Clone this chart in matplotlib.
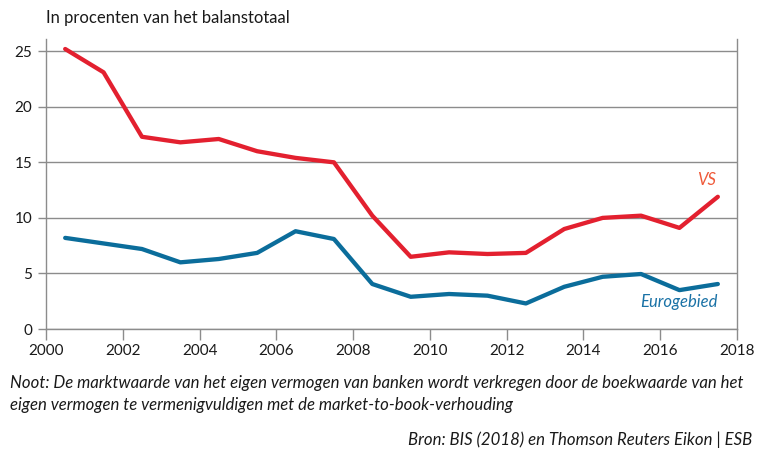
import matplotlib
matplotlib.use("Agg")
import matplotlib.pyplot as plt

# data
years = [2000.5, 2001.5, 2002.5, 2003.5, 2004.5, 2005.5, 2006.5, 2007.5, 2008.5,
         2009.5, 2010.5, 2011.5, 2012.5, 2013.5, 2014.5, 2015.5, 2016.5, 2017.5]
vs = [25.2, 23.1, 17.3, 16.8, 17.1, 16.0, 15.4, 15.0, 10.2,
      6.5, 6.9, 6.75, 6.85, 9.0, 10.0, 10.2, 9.1, 11.9]
eurogebied = [8.2, 7.7, 7.2, 6.0, 6.3, 6.85, 8.8, 8.1, 4.05,
              2.9, 3.15, 3.0, 2.3, 3.8, 4.7, 4.95, 3.5, 4.05]
x_ticks = [2000, 2002, 2004, 2006, 2008, 2010, 2012, 2014, 2016, 2018]
y_ticks = [0, 5, 10, 15, 20, 25]

plt.rcParams["font.family"] = ["Lato", "DejaVu Sans"]

red = "#e3202f"
blue = "#0b6d9b"
grid_col = "#8c8c8c"
txt = "#1a1a1a"

fig = plt.figure(figsize=(7.64, 4.55), dpi=100)
ax = fig.add_axes([0.0602, 0.2769, 0.9045, 0.6374])

ax.plot(years, vs, color=red, linewidth=3.1, solid_capstyle="round", solid_joinstyle="round", zorder=3)
ax.plot(years, eurogebied, color=blue, linewidth=3.1, solid_capstyle="round", solid_joinstyle="round", zorder=3)

ax.set_xlim(2000, 2018)
ax.set_ylim(0, 26.1)
ax.set_xticks(x_ticks)
ax.set_yticks(y_ticks)
ax.yaxis.grid(True, color=grid_col, linewidth=1.0)
ax.set_axisbelow(True)

ax.spines["top"].set_visible(False)
for s in ["left", "right", "bottom"]:
    ax.spines[s].set_color(grid_col)
    ax.spines[s].set_linewidth(1.0)

ax.tick_params(axis="x", direction="out", length=8, width=1.0, color=grid_col,
               labelsize=11, labelcolor=txt, pad=3)
ax.tick_params(axis="y", direction="out", length=6, width=1.0, color=grid_col,
               labelsize=11, labelcolor=txt, pad=4)

ax.text(2017.45, 13.4, "VS", color="#ef5a3a", fontsize=12, style="italic", ha="right", va="center")
ax.text(2017.5, 2.4, "Eurogebied", color="#1a72a6", fontsize=12, style="italic", ha="right", va="center")

fig.text(46 / 764, 1 - 18 / 455, "In procenten van het balanstotaal", fontsize=12,
         color=txt, ha="left", va="center")
fig.text(10 / 764, 1 - 383 / 455,
         "Noot: De marktwaarde van het eigen vermogen van banken wordt verkregen door de boekwaarde van het",
         fontsize=12.1, style="italic", color=txt, ha="left", va="center")
fig.text(10 / 764, 1 - 405 / 455,
         "eigen vermogen te vermenigvuldigen met de market-to-book-verhouding",
         fontsize=12.1, style="italic", color=txt, ha="left", va="center")
fig.text(752 / 764, 1 - 440 / 455, "Bron: BIS (2018) en Thomson Reuters Eikon | ESB",
         fontsize=12.1, style="italic", color=txt, ha="right", va="center")

fig.savefig("out.png", dpi=100)
